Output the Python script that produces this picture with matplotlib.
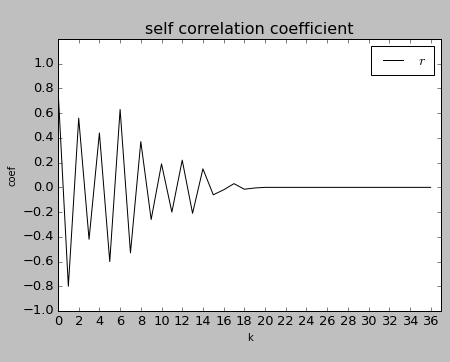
import matplotlib
matplotlib.use("Agg")
import matplotlib.pyplot as plt
import numpy as np

plt.style.use("classic")
plt.rcParams["mathtext.fontset"] = "cm"

# autocorrelation coefficient per lag k
lags = list(range(0, 37))
coef = [0.80, -0.80, 0.56, -0.42, 0.44, -0.60, 0.63, -0.53, 0.37, -0.26,
        0.19, -0.20, 0.22, -0.21, 0.15, -0.06, -0.02, 0.03, -0.015, -0.005] + [0.0] * 17

fig = plt.figure(figsize=(6.25, 362 / 72), dpi=72)
ax = fig.add_axes([58 / 450, 1 - 311 / 362, (441 - 58) / 450, (311 - 39) / 362])
ax.plot(lags, coef, color="black", label="$r$")
ax.set_xlim(0, 37)
ax.set_ylim(-1.0, 1.2)
ax.set_xticks(np.arange(0, 37, 2))
ax.set_yticks(np.arange(-1.0, 1.01, 0.2))
ax.set_title("self correlation coefficient", fontsize=16)
ax.set_xlabel("k", fontsize=10)
ax.set_ylabel("coef", fontsize=10)
ax.tick_params(labelsize=13)
ax.legend(loc="upper right", fontsize=14, borderpad=0.55)

fig.savefig("out.png", dpi=72, facecolor=fig.get_facecolor())
